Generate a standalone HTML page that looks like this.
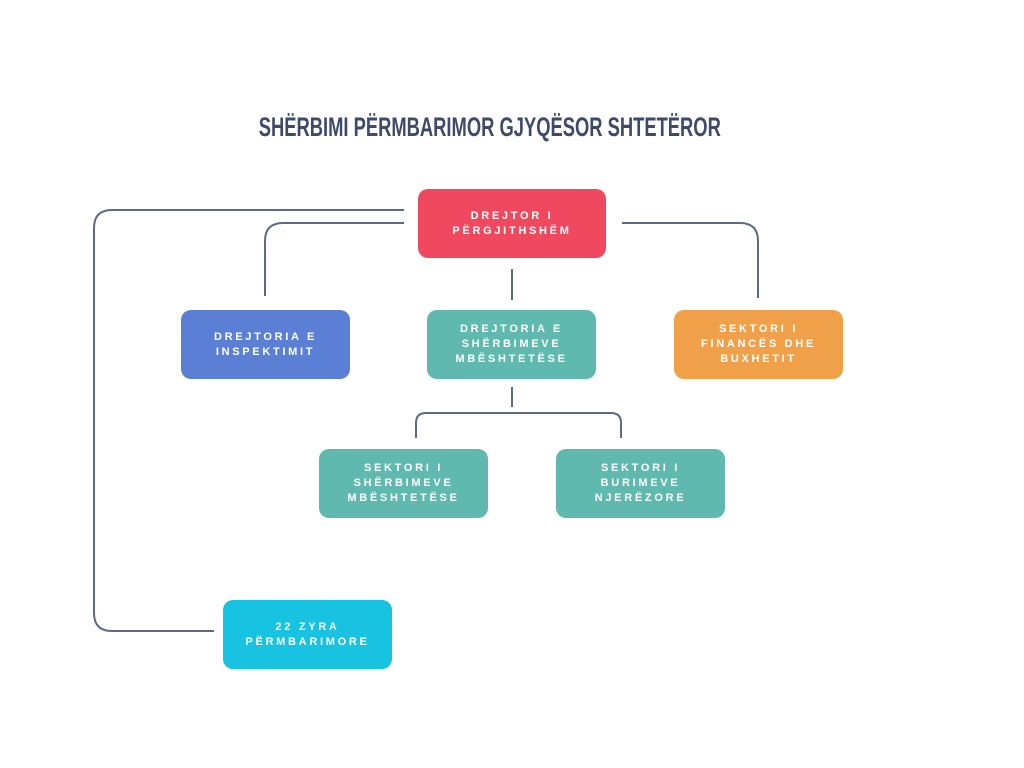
<!DOCTYPE html>
<html><head><meta charset="utf-8"><style>
body{margin:0;width:1024px;height:768px;background:#fff;position:relative;overflow:hidden;font-family:"Liberation Sans",sans-serif}
.t{position:absolute;left:0;width:980px;top:112px;text-align:center;font-size:27px;font-weight:bold;color:#3e4a6c;}
.t span{display:inline-block;transform:scaleX(0.68);transform-origin:center;white-space:nowrap}
.b{position:absolute;width:169px;height:69px;border-radius:10px;color:#fff;font-weight:bold;font-size:11px;letter-spacing:2.7px;line-height:15px;display:flex;align-items:center;justify-content:center;text-align:center}
svg{position:absolute;left:0;top:0}
</style></head><body>
<div class="t"><span>SHËRBIMI PËRMBARIMOR GJYQËSOR SHTETËROR</span></div>
<svg width="1024" height="768"><g fill="none" stroke="#5e6a85" stroke-width="2">
<path d="M404 210 H112 Q94 210 94 228 V613 Q94 631 112 631 H214"/>
<path d="M404 223 H283 Q265 223 265 241 V296"/>
<path d="M622 223 H740 Q758 223 758 241 V298"/>
<path d="M512 269 V300"/>
<path d="M512 387 V407"/>
<path d="M416 438 V423 Q416 413 426 413 H611 Q621 413 621 423 V438"/>
</g></svg>
<div class="b" style="left:418px;top:189px;width:188px;background:#f0495f">DREJTOR I<br>PËRGJITHSHËM</div>
<div class="b" style="left:181px;top:310px;background:#5b7fd4">DREJTORIA E<br>INSPEKTIMIT</div>
<div class="b" style="left:427px;top:310px;background:#5fb9ae">DREJTORIA E<br>SHËRBIMEVE<br>MBËSHTETËSE</div>
<div class="b" style="left:674px;top:310px;background:#f0a049">SEKTORI I<br>FINANCËS DHE<br>BUXHETIT</div>
<div class="b" style="left:319px;top:449px;background:#5fb9ae">SEKTORI I<br>SHËRBIMEVE<br>MBËSHTETËSE</div>
<div class="b" style="left:556px;top:449px;background:#5fb9ae">SEKTORI I<br>BURIMEVE<br>NJERËZORE</div>
<div class="b" style="left:223px;top:600px;background:#17c3e0">22 ZYRA<br>PËRMBARIMORE</div>
</body></html>
